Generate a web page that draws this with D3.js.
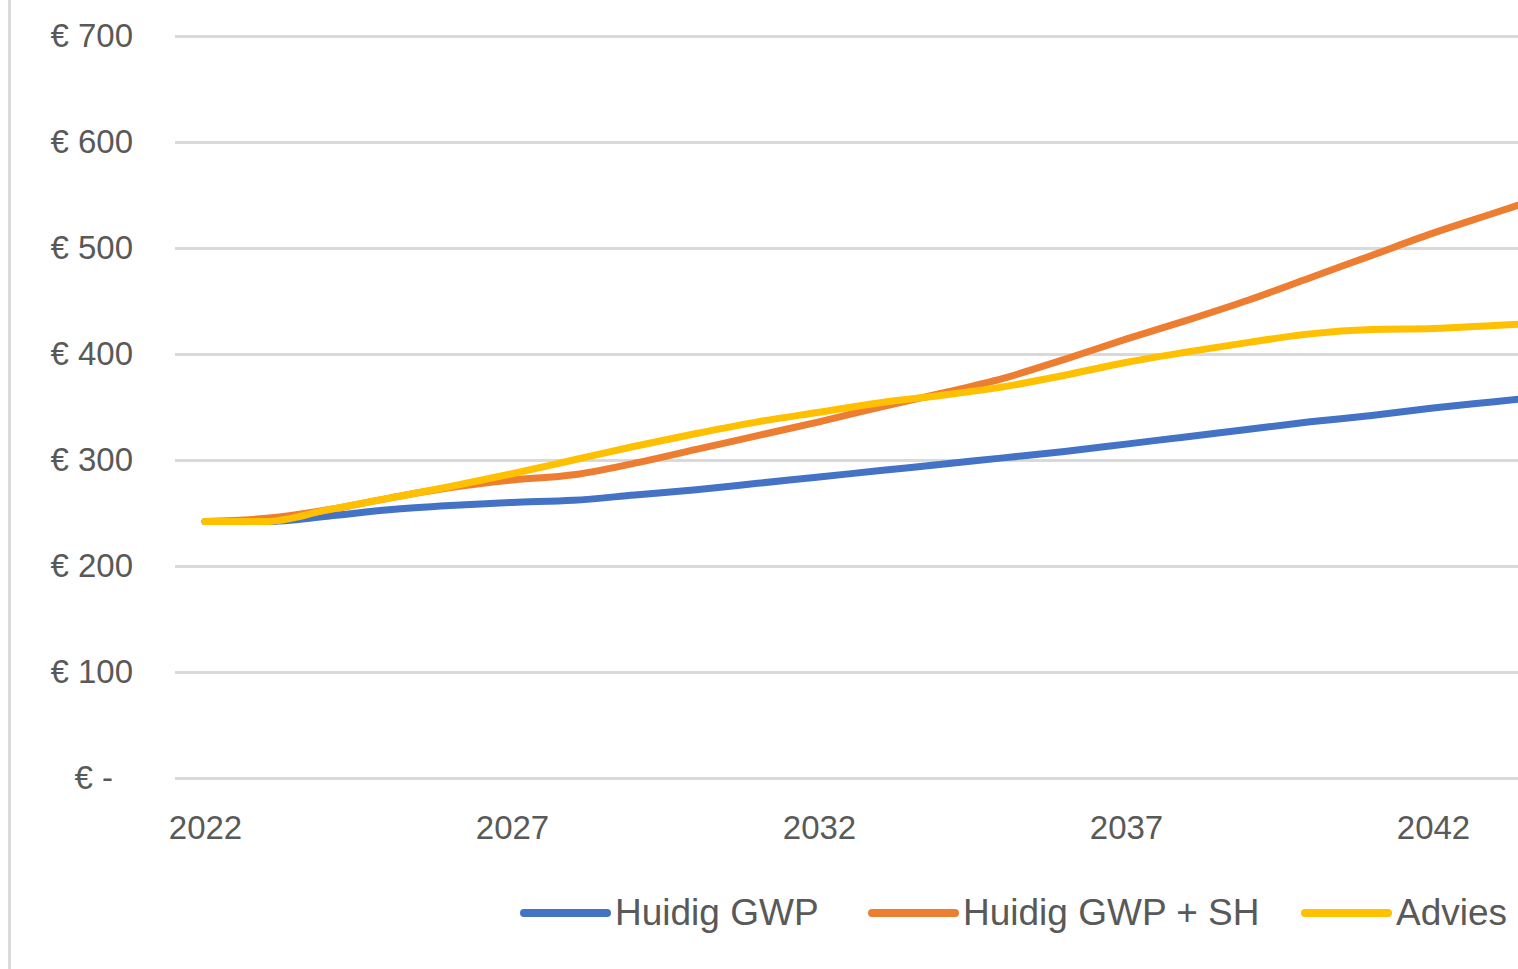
<!DOCTYPE html>
<html>
<head>
<meta charset="utf-8">
<script src="https://cdn.jsdelivr.net/npm/d3@7"></script>
<style>
  html, body { margin: 0; padding: 0; background: #fff; }
  svg { display: block; }
</style>
</head>
<body>
<script>
const years = [2022,2023,2024,2025,2026,2027,2028,2029,2030,2031,2032,2033,2034,2035,2036,2037,2038,2039,2040,2041,2042,2043,2044];
const huidigGWP   = [242,242,247,253,257,260,262,267,272,278,284,290,296,302,308,315,322,329,336,342,349,355,361];
const huidigGWPSH = [242,245,253,264,274,281,286,297,310,323,336,350,363,377,395,414,432,451,472,493,514,533,552];
const advies      = [242,242,253,264,275,287,300,313,325,336,345,354,361,369,380,392,402,411,419,423,424,427,430];
const seriesNames = ["Huidig GWP", "Huidig GWP + SH", "Advies"];
const seriesColors = ["#4472C4", "#ED7D31", "#FFC000"];
const xTickValues = [2022, 2027, 2032, 2037, 2042];
const yTickValues = [0, 100, 200, 300, 400, 500, 600, 700];

const W = 1518, H = 969;
const svg = d3.select("body").append("svg").attr("width", W).attr("height", H);

// left border of the chart area
svg.append("line").attr("x1", 9.5).attr("x2", 9.5).attr("y1", 0).attr("y2", H)
  .attr("stroke", "#d9d9d9").attr("stroke-width", 3);

const x = d3.scaleLinear().domain([2022, 2042]).range([205, 1433]);
const y = d3.scaleLinear().domain([0, 700]).range([778, 36]);

const font = "'Liberation Sans', Arial, sans-serif";
const textColor = "#595959";

// Y axis with gridlines
const yAxis = svg.append("g").attr("transform", "translate(175,0)")
  .call(d3.axisLeft(y).tickValues(yTickValues).tickSize(-(W - 175 + 10)).tickPadding(42)
    .tickFormat(v => v === 0 ? "€ -" : "€ " + v));
yAxis.select(".domain").remove();
yAxis.selectAll(".tick line").attr("stroke", "#d9d9d9").attr("stroke-width", 3);
yAxis.selectAll(".tick text").attr("fill", textColor).style("font-family", font).style("font-size", "33px")
  .attr("dx", d => d === 0 ? -20 : 0);

// X axis labels
const xAxis = svg.append("g").attr("transform", "translate(0,778)")
  .call(d3.axisBottom(x).tickValues(xTickValues).tickSize(0).tickPadding(38).tickFormat(d3.format("d")));
xAxis.select(".domain").remove();
xAxis.selectAll(".tick text").attr("fill", textColor).style("font-family", font).style("font-size", "33px");

// Lines
const allSeries = [huidigGWP, huidigGWPSH, advies];
const line = d3.line().x((d, i) => x(years[i])).y(d => y(d)).curve(d3.curveMonotoneX);
allSeries.forEach((s, k) => {
  svg.append("path").datum(s).attr("d", line).attr("fill", "none")
    .attr("stroke", seriesColors[k]).attr("stroke-width", 7)
    .attr("stroke-linecap", "round").attr("stroke-linejoin", "round");
});

// Legend
const legendSwatchX = [524, 872, 1305];
const legend = svg.append("g");
seriesNames.forEach((name, k) => {
  legend.append("line").attr("x1", legendSwatchX[k]).attr("x2", legendSwatchX[k] + 83)
    .attr("y1", 913).attr("y2", 913).attr("stroke", seriesColors[k]).attr("stroke-width", 8)
    .attr("stroke-linecap", "round");
  legend.append("text").attr("x", legendSwatchX[k] + 91).attr("y", 925)
    .attr("fill", textColor).style("font-family", font).style("font-size", "37px").text(name);
});
</script>
</body>
</html>
